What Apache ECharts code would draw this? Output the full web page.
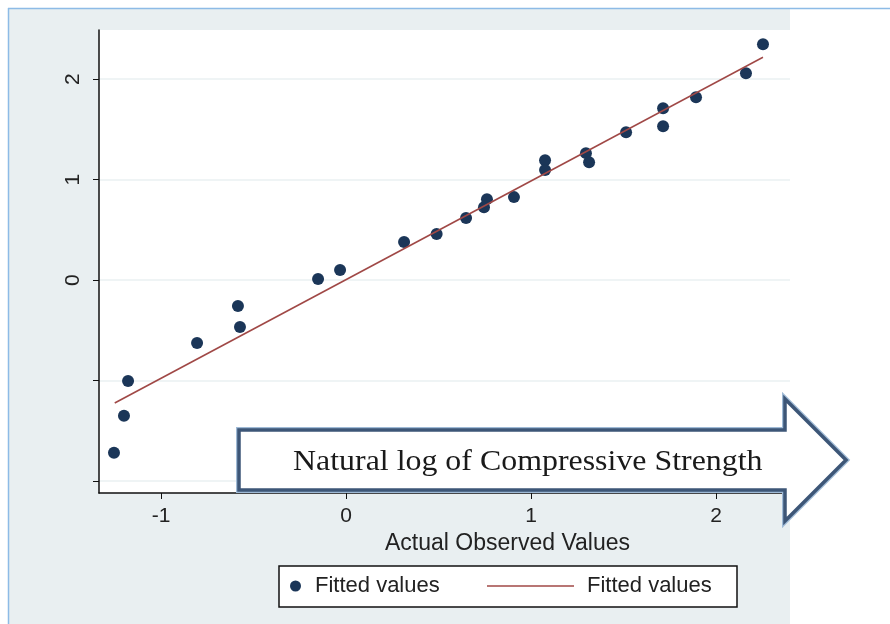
<!DOCTYPE html>
<html>
<head>
<meta charset="utf-8">
<script src="https://cdn.jsdelivr.net/npm/echarts@6/dist/echarts.min.js"></script>
<style>
  html, body { margin: 0; padding: 0; background: #fff; }
  #chart { width: 890px; height: 624px; }
</style>
</head>
<body>
<div id="chart"></div>
<script>
// observed (x) vs fitted (y)
const actualValues = [-1.254, -1.20, -1.178, -0.805, -0.584, -0.573, -0.151, -0.032, 0.314, 0.49,
  0.649, 0.746, 0.762, 0.908, 1.076, 1.076, 1.297, 1.314, 1.514, 1.714, 1.714, 1.892, 2.162, 2.254];
const fittedValues = [-1.72, -1.35, -1.005, -0.627, -0.259, -0.468, 0.01, 0.10, 0.378, 0.458,
  0.617, 0.726, 0.806, 0.826, 1.194, 1.095, 1.264, 1.174, 1.473, 1.711, 1.532, 1.821, 2.06, 2.348];
// fitted line end points
const lineX = [-1.25, 2.254];
const lineY = [-1.224, 2.219];

const xTicks = [-1, 0, 1, 2];
const yTicks = [-2, -1, 0, 1, 2];
const yLabels = [0, 1, 2];

const chart = echarts.init(document.getElementById('chart'));

const dotColor = '#1b3658';
const lineColor = '#a04846';
const textColor = '#222';

const option = {
  backgroundColor: '#fff',
  animation: false,
  grid: {
    left: 99, right: 100, top: 30, bottom: 131,
    show: true, backgroundColor: '#fff', borderWidth: 0
  },
  xAxis: {
    type: 'value',
    min: -1.335, max: 2.40,
    name: 'Actual Observed Values',
    nameLocation: 'middle',
    nameGap: 32,
    nameTextStyle: { fontFamily: 'Liberation Sans', fontSize: 23, color: textColor, padding: [0, 0, 0, 126] },
    axisLine: { show: true, onZero: false, lineStyle: { color: '#111', width: 1.5 } },
    axisTick: { show: true, customValues: xTicks, length: 6, lineStyle: { color: '#111' } },
    axisLabel: { customValues: xTicks, margin: 13, fontFamily: 'Liberation Sans', fontSize: 21, color: textColor },
    splitLine: { show: false }
  },
  yAxis: {
    type: 'value',
    min: -2.12, max: 2.49,
    axisLine: { show: true, onZero: false, lineStyle: { color: '#111', width: 1.5 } },
    axisTick: { show: true, customValues: yTicks, length: 6, lineStyle: { color: '#111' } },
    axisLabel: { customValues: yLabels, rotate: 90, margin: 15, fontFamily: 'Liberation Sans', fontSize: 21, color: textColor },
    splitLine: { show: true, lineStyle: { color: '#eaf0f2', width: 1.5 } }
  },
  legend: [
    {
      data: [{ name: 'Fitted values', icon: 'circle' }],
      left: 290, top: 575, padding: 0,
      itemWidth: 11, itemHeight: 11,
      selectedMode: false,
      textStyle: { fontFamily: 'Liberation Sans', fontSize: 22, color: textColor, padding: [0, 0, 0, 9] }
    },
    {
      data: [{ name: 'Fitted line', icon: 'rect' }],
      left: 487, top: 575, padding: 0,
      itemWidth: 87, itemHeight: 1.5,
      selectedMode: false,
      formatter: () => 'Fitted values',
      textStyle: { fontFamily: 'Liberation Sans', fontSize: 22, color: textColor, padding: [0, 0, 0, 8] }
    }
  ],
  graphic: [
    // panel background and its border
    { type: 'rect', z: -10, silent: true, shape: { x: 8, y: 8, width: 782, height: 616 }, style: { fill: '#e9eff1' } },
    { type: 'line', z: 20, silent: true, shape: { x1: 8.5, y1: 8, x2: 8.5, y2: 624 }, style: { stroke: '#8dbbe6', lineWidth: 1.5 } },
    { type: 'line', z: 20, silent: true, shape: { x1: 8, y1: 8.5, x2: 890, y2: 8.5 }, style: { stroke: '#8dbbe6', lineWidth: 1.5 } },
    // legend frame
    { type: 'rect', z: 3, silent: true, shape: { x: 279, y: 566, width: 458, height: 41 }, style: { fill: '#fff', stroke: '#111', lineWidth: 1.5 } },
    // arrow annotation
    {
      type: 'polygon', z: 10, silent: true,
      shape: { points: [[239, 430], [785, 430], [785, 399], [846, 460], [785, 521], [785, 490], [239, 490]] },
      style: { fill: '#fff', stroke: '#9fbad6', lineWidth: 6, lineJoin: 'miter' }
    },
    {
      type: 'polygon', z: 11, silent: true,
      shape: { points: [[239, 430], [785, 430], [785, 399], [846, 460], [785, 521], [785, 490], [239, 490]] },
      style: { fill: '#fff', stroke: '#3d5677', lineWidth: 3.5, lineJoin: 'miter' }
    },
    {
      type: 'text', z: 12, silent: true,
      x: 293, y: 462, scaleX: 1.1,
      style: {
        text: 'Natural log of Compressive Strength',
        font: '29px "Liberation Serif"',
        fill: '#1a1a1a',
        verticalAlign: 'middle'
      }
    }
  ],
  series: [
    {
      name: 'Fitted values',
      type: 'scatter',
      symbol: 'circle',
      symbolSize: 12,
      itemStyle: { color: dotColor, opacity: 1 },
      data: actualValues.map((x, i) => [x, fittedValues[i]])
    },
    {
      name: 'Fitted line',
      type: 'line',
      showSymbol: false,
      symbol: 'none',
      lineStyle: { color: lineColor, width: 1.5 },
      itemStyle: { color: lineColor },
      data: lineX.map((x, i) => [x, lineY[i]])
    }
  ]
};

chart.setOption(option);
</script>
</body>
</html>
